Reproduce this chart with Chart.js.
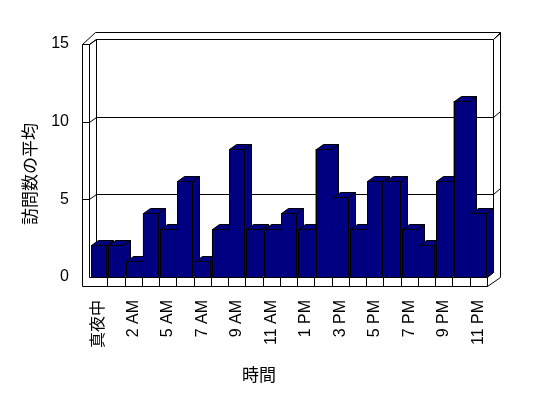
<!DOCTYPE html>
<html lang="ja">
<head>
<meta charset="UTF-8">
<title>訪問数の平均</title>
<script src="https://cdn.jsdelivr.net/npm/chart.js@4.4.1/dist/chart.umd.min.js"></script>
<style>
  html, body { margin: 0; padding: 0; background: #fff; }
  #chartBox { width: 548px; height: 398px; }
</style>
</head>
<body>
<div id="chartBox"><canvas id="visitsChart" width="548" height="398"></canvas></div>
<script>
// Catégories (heures) et moyenne des visites
const hourLabels = [
  "真夜中", "1 AM", "2 AM", "3 AM", "5 AM", "6 AM", "7 AM", "8 AM",
  "9 AM", "10 AM", "11 AM", "正午", "1 PM", "2 PM", "3 PM", "4 PM",
  "5 PM", "6 PM", "7 PM", "8 PM", "9 PM", "10 PM", "11 PM"
];
const visitAverages = [2, 2, 1, 4, 3, 6, 1, 3, 8, 3, 3, 4, 3, 8, 5, 3, 6, 6, 3, 2, 6, 11, 4];
const yTickValues = [0, 5, 10, 15];
const yAxisTitle = "訪問数の平均";
const xAxisTitle = "時間";

const FONT = "'Liberation Sans', 'Noto Sans CJK JP', sans-serif";
const NAVY = "#000080";

// Segment net de 1 px
function seg(ctx, x1, y1, x2, y2) {
  ctx.beginPath();
  ctx.moveTo(x1, y1);
  ctx.lineTo(x2, y2);
  ctx.stroke();
}
const px = (v) => Math.round(v) + 0.5;

// Plugin : murs, sol, grille et barres en 3D
const frame3d = {
  id: "frame3d",
  beforeDatasetsDraw(chart) {
    const ctx = chart.ctx;
    const L = chart.chartArea.left, R = chart.chartArea.right, B = chart.chartArea.bottom;
    const y2 = chart.scales.y2;
    const top = y2.getPixelForValue(15);
    const dx = 7, dy = 5;

    ctx.save();
    ctx.strokeStyle = "#000";
    ctx.lineWidth = 1;

    const xo = px(L - 8), xi = px(L - 1), xb = px(L + 6);
    const xr = px(R + 6), xro = px(R + 13);
    const yb = px(B), yf = px(B + 9);
    const yt = px(top), ytb = px(top - dy), yto = px(top - dy - 7);

    // mur gauche
    seg(ctx, xo, yt, xo, yf);
    seg(ctx, xi, yt, xi, yb);
    seg(ctx, xb, ytb, xb, px(B - dy));
    seg(ctx, xo, yt, xi, yt);
    seg(ctx, xi, yt, xb, ytb);
    seg(ctx, xo, yt, xb - 1, yto);

    // mur du fond
    seg(ctx, xb - 1, yto, xro, yto);
    seg(ctx, xr, ytb, xr, px(B - dy));
    seg(ctx, xro, yto, xro, yb);
    seg(ctx, xr, ytb, xro, yto);

    // grille sur le mur du fond
    yTickValues.forEach((v) => {
      if (v === 0) return;
      const y = y2.getPixelForValue(v);
      seg(ctx, xo, px(y), xi, px(y));
      seg(ctx, xi, px(y), xb, px(y - dy));
      seg(ctx, xb, px(y - dy), xr, px(y - dy));
      seg(ctx, xr, px(y - dy), xro, px(y - dy - 6));
    });

    // sol
    seg(ctx, xo, yf, px(R), yf);
    seg(ctx, xi, yb, px(R), yb);
    seg(ctx, px(R), yb, px(R), yf);
    seg(ctx, px(R), yf, xro, yb);
    seg(ctx, px(R), yb, xr, px(B - dy));

    // graduations du sol
    const xs = chart.scales.x;
    const w = (R - L) / hourLabels.length;
    for (let i = 1; i < hourLabels.length; i++) {
      const x = px(L + i * w);
      seg(ctx, x, yb, x, yf);
    }
    ctx.restore();
  },
  afterDatasetsDraw(chart) {
    const ctx = chart.ctx;
    const meta = chart.getDatasetMeta(0);
    const dx = 7, dy = 5;
    ctx.save();
    ctx.strokeStyle = "#000";
    ctx.fillStyle = NAVY;
    ctx.lineWidth = 1;
    meta.data.forEach((bar) => {
      const p = bar.getProps(["x", "y", "base", "width"], true);
      const l = px(p.x - p.width / 2), r = px(p.x + p.width / 2);
      const t = px(p.y), b = px(p.base);
      // face latérale
      ctx.beginPath();
      ctx.moveTo(r, t);
      ctx.lineTo(r + dx, t - dy);
      ctx.lineTo(r + dx, b - dy);
      ctx.lineTo(r, b);
      ctx.closePath();
      ctx.fill();
      ctx.stroke();
      // dessus
      ctx.beginPath();
      ctx.moveTo(l, t);
      ctx.lineTo(l + dx, t - dy);
      ctx.lineTo(r + dx, t - dy);
      ctx.lineTo(r, t);
      ctx.closePath();
      ctx.fill();
      ctx.stroke();
      // face avant
      ctx.fillRect(l, t, r - l, b - t);
      ctx.strokeRect(l, t, r - l, b - t);
    });
    ctx.restore();
  },
  afterDraw(chart) {
    // titres des axes
    const ctx = chart.ctx;
    ctx.save();
    ctx.fillStyle = "#000";
    ctx.font = "17px " + FONT;
    ctx.textAlign = "center";
    ctx.textBaseline = "middle";
    ctx.fillText(xAxisTitle, 259, 376);
    ctx.translate(31, 174);
    ctx.rotate(-Math.PI / 2);
    ctx.fillText(yAxisTitle, 0, 0);
    ctx.restore();
  },
};

function renderChart() {
  const ctx = document.getElementById("visitsChart").getContext("2d");
  new Chart(ctx, {
    type: "bar",
    data: {
      labels: hourLabels,
      datasets: [
        {
          label: yAxisTitle,
          data: visitAverages,
          backgroundColor: NAVY,
          borderWidth: 0,
          categoryPercentage: 0.87,
          barPercentage: 1,
          yAxisID: "y",
        },
      ],
    },
    options: {
      responsive: false,
      animation: false,
      events: [],
      layout: { padding: { left: 0, right: 61, top: 37, bottom: 0 } },
      plugins: { legend: { display: false }, tooltip: { enabled: false } },
      scales: {
        x: {
          grid: { display: false, drawTicks: false, tickLength: 0 },
          border: { display: false },
          ticks: {
            autoSkip: false,
            minRotation: 90,
            maxRotation: 90,
            padding: 23,
            color: "#000",
            font: { family: FONT, size: 16 },
            callback: (v, i) => (i % 2 === 0 ? hourLabels[i] : ""),
          },
          afterFit: (s) => { s.height = 121; },
        },
        y: { display: false, min: 0, max: 15 },
        y2: {
          position: "left",
          min: 0,
          max: 15.45,
          grid: { display: false, drawTicks: false, tickLength: 0 },
          border: { display: false },
          ticks: {
            stepSize: 5,
            includeBounds: false,
            padding: 21,
            color: "#000",
            font: { family: FONT, size: 16 },
          },
          afterFit: (s) => { s.width = 90; },
        },
      },
    },
    plugins: [frame3d],
  });
}

window.onload = () => {
  renderChart();
};
</script>
</body>
</html>
